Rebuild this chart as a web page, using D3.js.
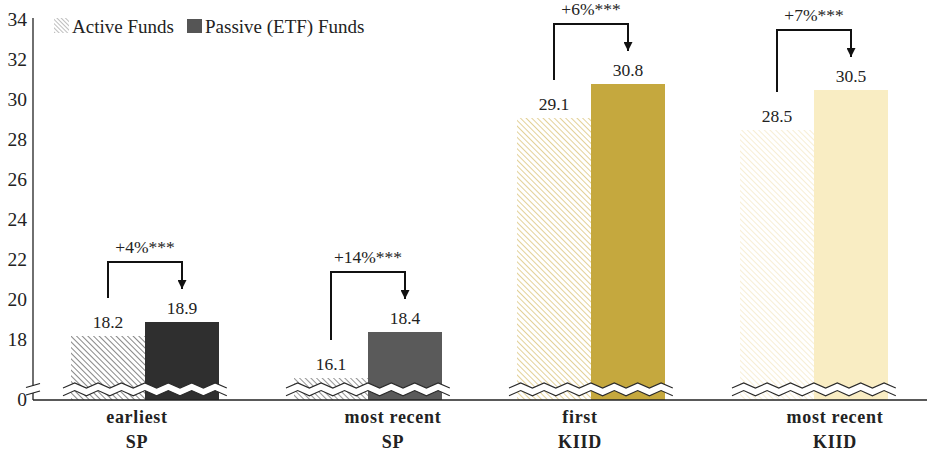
<!DOCTYPE html>
<html><head><meta charset="utf-8">
<script src="https://cdn.jsdelivr.net/npm/d3@7"></script>
<style>body{margin:0;background:#fff}svg{display:block}text{font-family:"Liberation Serif","Times New Roman",serif;fill:#222}</style>
</head><body>
<svg id="c" width="927" height="458"></svg>
<script>
const categories = ["earliest|SP", "most recent|SP", "first|KIID", "most recent|KIID"];
const activeValues = [18.2, 16.1, 29.1, 28.5];
const passiveValues = [18.9, 18.4, 30.8, 30.5];
const diffLabels = ["+4%***", "+14%***", "+6%***", "+7%***"];
const yTicks = [0, 18, 20, 22, 24, 26, 28, 30, 32, 34];
const seriesNames = ["Active Funds", "Passive (ETF) Funds"];
const passiveColors = ["#2f2f2f", "#5a5a5a", "#c5a83e", "#f9edc3"];
const hatchColors = ["#6a6a6a", "#7a7a7a", "#dcc67e", "#f6eacb"];

const svg = d3.select("#c");
const W = 927, H = 458;
const axisX = 33, baseY = 400;
// broken axis: values 0..15 collapsed onto the baseline
const y = d3.scaleLinear().domain([0, 15, 34]).range([baseY, baseY, 20]);
const x = d3.scaleBand().domain(categories).range([33.5, 925.5]).padding(0);
const bw = 74;
const catLabelDx = [-8, 25, -11, 21];

const defs = svg.append("defs");
hatchColors.forEach((c, i) => {
  const p = defs.append("pattern").attr("id", "h" + i).attr("patternUnits", "userSpaceOnUse")
    .attr("width", 4).attr("height", 4).attr("patternTransform", "rotate(-45)");
  p.append("rect").attr("width", 4).attr("height", 4).attr("fill", "#fff");
  p.append("line").attr("x1", 0).attr("y1", 0).attr("x2", 0).attr("y2", 4)
    .attr("stroke", c).attr("stroke-width", 1.6);
});
{
  const p = defs.append("pattern").attr("id", "hl").attr("patternUnits", "userSpaceOnUse")
    .attr("width", 3).attr("height", 3).attr("patternTransform", "rotate(-45)");
  p.append("line").attr("x1", 0).attr("y1", 0).attr("x2", 0).attr("y2", 3)
    .attr("stroke", "#888").attr("stroke-width", 1.1);
}
defs.append("marker").attr("id", "arr").attr("viewBox", "0 0 10 10").attr("refX", 10).attr("refY", 5)
  .attr("markerWidth", 4.5).attr("markerHeight", 4.5).attr("orient", "auto")
  .append("path").attr("d", "M0,0L10,5L0,10Z").attr("fill", "#111");

const data = categories.map((c, i) => ({c, i, a: activeValues[i], p: passiveValues[i], d: diffLabels[i]}));

// bars
const g = svg.append("g");
g.selectAll(".act").data(data).join("rect")
  .attr("x", d => x(d.c) + x.bandwidth() / 2 - bw).attr("width", bw)
  .attr("y", d => y(d.a)).attr("height", d => baseY - y(d.a))
  .attr("fill", d => `url(#h${d.i})`);
g.selectAll(".pas").data(data).join("rect")
  .attr("x", d => x(d.c) + x.bandwidth() / 2).attr("width", bw)
  .attr("y", d => y(d.p)).attr("height", d => baseY - y(d.p))
  .attr("fill", d => passiveColors[d.i]);

// wavy break across bars
function zig(x0, x1, yc, amp, per) {
  const pts = [];
  for (let xx = x0, k = 0; xx <= x1 + 0.01; xx += per / 2, k++) pts.push([xx, yc + (k % 2 ? -amp : amp)]);
  return pts;
}
data.forEach(d => {
  const cx = x(d.c) + x.bandwidth() / 2;
  const x0 = cx - 82, x1 = cx + 82;
  const up = zig(x0, x1, baseY - 14.5, 2.6, 23.4);
  const lo = zig(x0, x1, baseY - 6.8, 2.6, 23.4);
  const band = up.concat(lo.slice().reverse());
  g.append("path").attr("d", "M" + band.join("L") + "Z").attr("fill", "#fff");
  const line = d3.line();
  g.append("path").attr("d", line(up)).attr("fill", "none").attr("stroke", "#2a2a2a").attr("stroke-width", 1.1);
  g.append("path").attr("d", line(lo)).attr("fill", "none").attr("stroke", "#2a2a2a").attr("stroke-width", 1.1);
});

// value labels
g.selectAll(".va").data(data).join("text")
  .attr("x", d => x(d.c) + x.bandwidth() / 2 - bw / 2).attr("y", d => y(d.a) - 8)
  .attr("text-anchor", "middle").attr("font-size", 17.5).text(d => d.a.toFixed(1));
g.selectAll(".vp").data(data).join("text")
  .attr("x", d => x(d.c) + x.bandwidth() / 2 + bw / 2).attr("y", d => y(d.p) - 8)
  .attr("text-anchor", "middle").attr("font-size", 17.5).text(d => d.p.toFixed(1));

// brackets
data.forEach(d => {
  const cx = x(d.c) + x.bandwidth() / 2;
  const xa = cx - bw / 2, xp = cx + bw / 2;
  const top = y(d.p) - 60;
  g.append("path").attr("d", `M${xa},${y(d.a) - 38}V${top}H${xp}V${y(d.p) - 33}`)
    .attr("fill", "none").attr("stroke", "#111").attr("stroke-width", 2).attr("marker-end", "url(#arr)");
  g.append("text").attr("x", cx).attr("y", top - 9).attr("text-anchor", "middle")
    .attr("font-size", 17.5).text(d.d);
});

// axes
const ax = svg.append("g");
ax.append("line").attr("x1", axisX).attr("x2", axisX).attr("y1", 18).attr("y2", baseY - 14.5).attr("stroke", "#222").attr("stroke-width", 1.3);
ax.append("line").attr("x1", axisX).attr("x2", axisX).attr("y1", baseY - 7).attr("y2", baseY).attr("stroke", "#222").attr("stroke-width", 1.3);
ax.append("line").attr("x1", axisX).attr("x2", W).attr("y1", baseY).attr("y2", baseY).attr("stroke", "#222").attr("stroke-width", 1.3);
[baseY - 14.5, baseY - 7].forEach(yy => {
  ax.append("line").attr("x1", axisX - 7).attr("x2", axisX + 7).attr("y1", yy + 2).attr("y2", yy - 2)
    .attr("stroke", "#222").attr("stroke-width", 1.2);
});
ax.selectAll(".yt").data(yTicks).join("text")
  .attr("x", axisX - 6).attr("y", d => y(d) + 6).attr("text-anchor", "end")
  .attr("font-size", 19.5).text(d => d);

// category labels
data.forEach(d => {
  const cx = x(d.c) + x.bandwidth() / 2 + catLabelDx[d.i];
  const parts = d.c.split("|");
  ax.append("text").attr("x", cx).attr("y", 423).attr("text-anchor", "middle").attr("font-size", 18)
    .attr("font-weight", "bold").attr("letter-spacing", 0.7).text(parts[0]);
  ax.append("text").attr("x", cx).attr("y", 448).attr("text-anchor", "middle").attr("font-size", 18)
    .attr("font-weight", "bold").attr("letter-spacing", 0.7).text(parts[1]);
});

// legend
const lg = svg.append("g");
lg.append("rect").attr("x", 54).attr("y", 18).attr("width", 15).attr("height", 15).attr("fill", "url(#hl)");
lg.append("text").attr("x", 72).attr("y", 33).attr("font-size", 19).text(seriesNames[0]);
lg.append("rect").attr("x", 187).attr("y", 19).attr("width", 15).attr("height", 14).attr("fill", "#555");
lg.append("text").attr("x", 205).attr("y", 33).attr("font-size", 19).text(seriesNames[1]);
</script>
</body></html>
